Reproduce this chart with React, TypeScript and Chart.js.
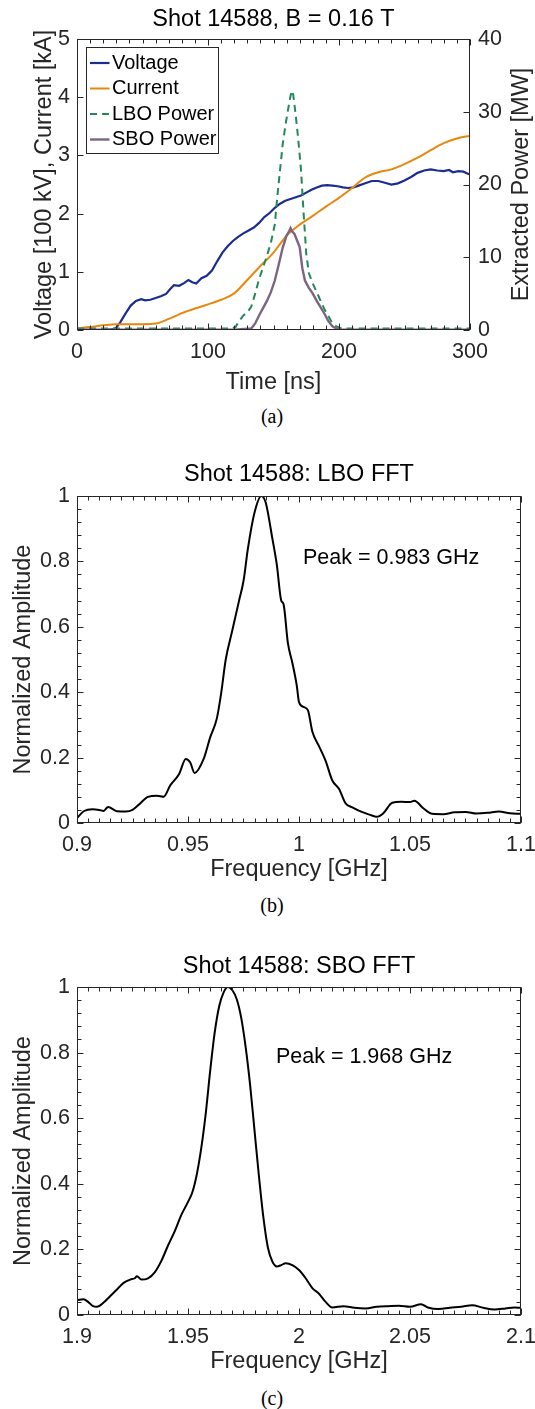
import React, { useEffect, useRef } from "react";
import { Chart, registerables } from "chart.js";

Chart.register(...registerables);

const SANS = '"Liberation Sans", Arial, Helvetica, sans-serif';
const SERIF = '"Liberation Serif", "Times New Roman", Times, serif';
const INK = "#262626";

// ---------------- Panel (a): time traces ----------------
const chartATitle = "Shot 14588, B = 0.16 T";
const legendLabels = ["Voltage", "Current", "LBO Power", "SBO Power"];
const leftAxisTitle = "Voltage [100 kV], Current [kA]";
const rightAxisTitle = "Extracted Power [MW]";

const voltageTime = [0, 10, 20, 27, 30, 33, 37, 41, 45, 49, 52, 56, 60, 64, 68, 71, 74, 78, 82, 85, 88, 91, 95, 99, 103, 107, 111, 115, 119, 123, 127, 131, 135, 139, 143, 147, 151, 155, 159, 163, 167, 171, 175, 179, 183, 187, 191, 195, 199, 203, 207, 211, 215, 220, 225, 230, 235, 240, 245, 250, 255, 260, 265, 270, 275, 280, 284, 287, 291, 295, 298, 300];
const voltageValue = [0.01, 0.0, 0.0, 0.01, 0.04, 0.13, 0.28, 0.42, 0.5, 0.53, 0.51, 0.52, 0.55, 0.58, 0.62, 0.7, 0.77, 0.76, 0.81, 0.86, 0.82, 0.8, 0.89, 0.93, 1.02, 1.18, 1.33, 1.44, 1.53, 1.6, 1.66, 1.71, 1.76, 1.84, 1.94, 2.01, 2.1, 2.17, 2.22, 2.25, 2.28, 2.31, 2.36, 2.41, 2.45, 2.48, 2.49, 2.48, 2.47, 2.45, 2.44, 2.45, 2.48, 2.52, 2.56, 2.56, 2.53, 2.5, 2.52, 2.57, 2.63, 2.7, 2.74, 2.76, 2.74, 2.73, 2.75, 2.71, 2.73, 2.72, 2.69, 2.67];

const currentTime = [0, 10, 20, 30, 40, 50, 60, 70, 80, 90, 100, 110, 120, 130, 140, 150, 160, 170, 180, 190, 200, 210, 220, 230, 240, 250, 260, 270, 280, 290, 300];
const currentValue = [0.03, 0.05, 0.08, 0.1, 0.1, 0.1, 0.11, 0.19, 0.29, 0.37, 0.44, 0.52, 0.63, 0.86, 1.1, 1.33, 1.62, 1.81, 1.96, 2.12, 2.27, 2.44, 2.62, 2.71, 2.76, 2.85, 2.96, 3.09, 3.21, 3.29, 3.34];

const lboTime = [0, 60, 118, 121, 124, 127, 130, 133, 136, 139, 142, 145, 148, 151, 153, 155, 157, 159, 161, 163, 164, 165, 167, 169, 171, 173, 175, 177, 180, 183, 186, 189, 192, 195, 198, 202, 240, 300];
const lboPower = [0.2, 0.2, 0.2, 0.4, 1.3, 2.0, 2.4, 3.2, 5.0, 7.0, 8.6, 10.2, 12.0, 14.5, 18.5, 22.0, 25.5, 28.0, 30.2, 32.2, 32.9, 32.4, 29.5, 26.0, 22.0, 16.0, 10.5, 7.8, 6.4, 5.2, 4.0, 2.8, 1.9, 0.9, 0.5, 0.2, 0.2, 0.2];

const sboTime = [0, 60, 120, 133, 136, 139, 142, 145, 148, 151, 154, 157, 160, 162, 163, 164, 166, 168, 170, 172, 174, 177, 180, 183, 186, 189, 192, 195, 198, 202, 250, 300];
const sboPower = [0.05, 0.05, 0.05, 0.2, 0.9, 2.0, 3.0, 4.0, 5.2, 6.8, 9.0, 11.3, 13.0, 13.6, 14.0, 13.6, 13.2, 12.3, 11.4, 8.5, 6.8, 5.8, 5.0, 4.0, 3.1, 2.2, 1.2, 0.5, 0.2, 0.05, 0.05, 0.05];

// ---------------- Panel (b): LBO FFT ----------------
const chartBTitle = "Shot 14588: LBO FFT";
const lboPeakLabel = "Peak = 0.983 GHz";
const lboFreq = [0.9, 0.903, 0.907, 0.91, 0.912, 0.914, 0.918, 0.922, 0.925, 0.928, 0.932, 0.936, 0.939, 0.942, 0.946, 0.949, 0.951, 0.953, 0.957, 0.96, 0.963, 0.965, 0.967, 0.97, 0.973, 0.975, 0.977, 0.98, 0.983, 0.985, 0.988, 0.99, 0.992, 0.993, 0.995, 0.997, 0.999, 1.0, 1.002, 1.004, 1.006, 1.009, 1.012, 1.015, 1.018, 1.021, 1.024, 1.028, 1.032, 1.035, 1.038, 1.042, 1.046, 1.05, 1.052, 1.056, 1.06, 1.065, 1.07, 1.075, 1.08, 1.085, 1.09, 1.095, 1.1];
const lboAmp = [0.015, 0.036, 0.042, 0.04, 0.037, 0.049, 0.036, 0.035, 0.04, 0.057, 0.08, 0.083, 0.08, 0.115, 0.15, 0.196, 0.185, 0.153, 0.195, 0.262, 0.32, 0.4, 0.5, 0.59, 0.68, 0.74, 0.84, 0.95, 1.0, 0.98, 0.87, 0.79, 0.68, 0.67, 0.55, 0.49, 0.42, 0.37, 0.355, 0.345, 0.28, 0.235, 0.19, 0.13, 0.105, 0.06, 0.048, 0.035, 0.025, 0.019, 0.03, 0.062, 0.065, 0.064, 0.068, 0.045, 0.028, 0.027, 0.033, 0.034, 0.029, 0.031, 0.035, 0.03, 0.028];
const lboPeakAt = [1.0018, 0.81];

// ---------------- Panel (c): SBO FFT ----------------
const chartCTitle = "Shot 14588: SBO FFT";
const sboPeakLabel = "Peak = 1.968 GHz";
const sboFreq = [1.9, 1.903, 1.905, 1.907, 1.909, 1.912, 1.915, 1.918, 1.921, 1.924, 1.926, 1.927, 1.929, 1.932, 1.935, 1.938, 1.941, 1.944, 1.947, 1.95, 1.952, 1.954, 1.956, 1.958, 1.96, 1.962, 1.964, 1.966, 1.968, 1.97, 1.972, 1.974, 1.976, 1.978, 1.98, 1.982, 1.984, 1.986, 1.988, 1.99, 1.992, 1.994, 1.997, 2.0, 2.003, 2.006, 2.009, 2.012, 2.015, 2.02, 2.025, 2.03, 2.035, 2.04, 2.045, 2.05, 2.055, 2.058, 2.063, 2.068, 2.073, 2.078, 2.083, 2.088, 2.093, 2.097, 2.1];
const sboAmp = [0.046, 0.048, 0.04, 0.028, 0.025, 0.038, 0.058, 0.078, 0.098, 0.108, 0.112, 0.118, 0.108, 0.112, 0.13, 0.165, 0.212, 0.255, 0.305, 0.345, 0.375, 0.43, 0.51, 0.615, 0.745, 0.86, 0.94, 0.983, 1.0, 0.99, 0.962, 0.905, 0.815, 0.7, 0.56, 0.42, 0.295, 0.205, 0.163, 0.148, 0.152, 0.158, 0.152, 0.137, 0.112, 0.082, 0.065, 0.04, 0.023, 0.027, 0.022, 0.02, 0.025, 0.027, 0.028, 0.025, 0.033, 0.023, 0.018, 0.022, 0.025, 0.03, 0.022, 0.017, 0.02, 0.023, 0.022];
const sboPeakAt = [1.9896, 0.7875];

// ---------------- helpers ----------------
const pts = (xs: number[], ys: number[]) => xs.map((x, i) => ({ x, y: ys[i] }));
const tickFont = { family: SANS, size: 21.5 };
const labelFont = { family: SANS, size: 23.5, lineHeight: "28px" };
const noGrid = { display: false, drawTicks: false, drawOnChartArea: false, tickLength: 0 };
const fmt = (v: any) => String(Math.round(Number(v) * 1000) / 1000);

type Edge = "left" | "right" | "top" | "bottom";
interface TickSpec { scaleId: string; edges: Edge[]; step: number; minor?: number }
interface DecorCfg {
  ticks: TickSpec[];
  legend?: { x: number; y: number; w: number; h: number; row0: number; rowGap: number; lineX0: number; lineX1: number; textX: number; size: number };
  note?: { text: string; at: number[]; size: number };
  sideTitles?: { text: string; x: number; size: number }[];
}

function makeDecor(cfg: DecorCfg) {
  return {
    id: "matlabDecor",
    afterDatasetsDraw(chart: any) {
      const { ctx, chartArea: a, scales } = chart;
      const L = Math.round(a.left) + 0.5;
      const R = Math.round(a.right) - 0.5;
      const T = Math.round(a.top) + 0.5;
      const B = Math.round(a.bottom) - 0.5;
      ctx.save();
      ctx.setLineDash([]);
      ctx.strokeStyle = INK;
      ctx.lineWidth = 1;
      ctx.beginPath();
      for (const t of cfg.ticks) {
        const s = scales[t.scaleId];
        const mark = (v: number, len: number) => {
          const p = Math.round(s.getPixelForValue(v)) + 0.5;
          for (const e of t.edges) {
            if (e === "bottom") { ctx.moveTo(p, B); ctx.lineTo(p, B - len); }
            else if (e === "top") { ctx.moveTo(p, T); ctx.lineTo(p, T + len); }
            else if (e === "left") { ctx.moveTo(L, p); ctx.lineTo(L + len, p); }
            else { ctx.moveTo(R, p); ctx.lineTo(R - len, p); }
          }
        };
        const span = s.max - s.min;
        const nMaj = Math.round(span / t.step);
        for (let i = 0; i <= nMaj; i++) mark(s.min + i * t.step, 6);
        if (t.minor) {
          const n = Math.round(span / t.minor);
          for (let i = 0; i <= n; i++) mark(s.min + i * t.minor, 4);
        }
      }
      ctx.stroke();
      ctx.strokeRect(L, T, R - L, B - T);

      if (cfg.legend) {
        const lg = cfg.legend;
        const x0 = Math.round(a.left + lg.x) + 0.5;
        const y0 = Math.round(a.top + lg.y) + 0.5;
        ctx.fillStyle = "#ffffff";
        ctx.fillRect(x0, y0, lg.w, lg.h);
        ctx.strokeStyle = INK;
        ctx.lineWidth = 1;
        ctx.strokeRect(x0, y0, lg.w, lg.h);
        ctx.font = `${lg.size}px ${SANS}`;
        ctx.textAlign = "left";
        ctx.textBaseline = "middle";
        chart.data.datasets.forEach((ds: any, i: number) => {
          const y = y0 + lg.row0 + i * lg.rowGap;
          ctx.strokeStyle = ds.borderColor;
          ctx.lineWidth = ds.borderWidth;
          ctx.setLineDash(ds.borderDash || []);
          ctx.beginPath();
          ctx.moveTo(x0 + lg.lineX0, y);
          ctx.lineTo(x0 + lg.lineX1, y);
          ctx.stroke();
          ctx.setLineDash([]);
          ctx.fillStyle = "#000";
          ctx.fillText(ds.label, x0 + lg.textX, y);
        });
      }

      if (cfg.note) {
        const px = scales.x.getPixelForValue(cfg.note.at[0]);
        const py = scales.y.getPixelForValue(cfg.note.at[1]);
        ctx.font = `${cfg.note.size}px ${SANS}`;
        ctx.fillStyle = "#000";
        ctx.textAlign = "left";
        ctx.textBaseline = "middle";
        ctx.fillText(cfg.note.text, px, py);
      }

      for (const st of cfg.sideTitles || []) {
        ctx.save();
        ctx.translate(st.x, (a.top + a.bottom) / 2);
        ctx.rotate(-Math.PI / 2);
        ctx.font = `${st.size}px ${SANS}`;
        ctx.fillStyle = INK;
        ctx.textAlign = "center";
        ctx.textBaseline = "middle";
        ctx.fillText(st.text, 0, 0);
        ctx.restore();
      }
      ctx.restore();
    },
  };
}

function titleOpts(text: string, top: number, bottom: number) {
  return {
    display: true,
    text,
    color: "#000",
    font: { family: SANS, size: 23.5, weight: "normal", lineHeight: "28px" },
    padding: { top, bottom },
    fullSize: false,
  };
}

function configA(): any {
  return {
    type: "line",
    data: {
      datasets: [
        { label: legendLabels[0], data: pts(voltageTime, voltageValue), borderColor: "#1b2d8f", borderWidth: 2.2, yAxisID: "y", order: 4, pointRadius: 0, tension: 0 },
        { label: legendLabels[1], data: pts(currentTime, currentValue), borderColor: "#e8870e", borderWidth: 2, yAxisID: "y", order: 3, pointRadius: 0, cubicInterpolationMode: "monotone" },
        { label: legendLabels[2], data: pts(lboTime, lboPower), borderColor: "#23875a", borderWidth: 2, borderDash: [7, 5], yAxisID: "y1", order: 2, pointRadius: 0, tension: 0 },
        { label: legendLabels[3], data: pts(sboTime, sboPower), borderColor: "#7c6582", borderWidth: 2.4, yAxisID: "y1", order: 1, pointRadius: 0, tension: 0 },
      ],
    },
    options: {
      responsive: false,
      animation: false,
      events: [],
      layout: { padding: 0 },
      plugins: {
        legend: { display: false },
        tooltip: { enabled: false },
        title: titleOpts(chartATitle, 6, 5),
      },
      scales: {
        x: {
          type: "linear", min: 0, max: 300,
          ticks: { stepSize: 100, color: INK, font: tickFont, padding: 9, maxRotation: 0, callback: fmt },
          grid: noGrid, border: { display: false },
          title: { display: true, text: "Time [ns]", color: INK, font: labelFont, padding: { top: 4, bottom: 4 } },
          afterFit: (s: any) => { s.height = 71; s.paddingLeft = 0; s.paddingRight = 0; },
        },
        y: {
          type: "linear", position: "left", min: 0, max: 5,
          ticks: { stepSize: 1, color: INK, font: tickFont, padding: 7, callback: fmt },
          grid: noGrid, border: { display: false },
          afterFit: (s: any) => { s.width = 77; s.paddingTop = 0; s.paddingBottom = 0; },
        },
        y1: {
          type: "linear", position: "right", min: 0, max: 40,
          ticks: { stepSize: 10, color: INK, font: tickFont, padding: 8, callback: fmt },
          grid: noGrid, border: { display: false },
          afterFit: (s: any) => { s.width = 65; s.paddingTop = 0; s.paddingBottom = 0; },
        },
      },
    },
    plugins: [
      makeDecor({
        ticks: [
          { scaleId: "x", edges: ["bottom", "top"], step: 100, minor: 10 },
          { scaleId: "y", edges: ["left"], step: 1 },
          { scaleId: "y1", edges: ["right"], step: 10 },
        ],
        legend: { x: 9, y: 8, w: 132, h: 106, row0: 15.5, rowGap: 25.5, lineX0: 3.5, lineX1: 23, textX: 25.5, size: 20 },
        sideTitles: [
          { text: leftAxisTitle, x: 44.4, size: 23.5 },
          { text: rightAxisTitle, x: 521.5, size: 23.5 },
        ],
      }),
    ],
  };
}

function fftConfig(title: string, tTop: number, tBottom: number, freq: number[], amp: number[], xmin: number, xmax: number, noteText: string, noteAt: number[], height: number): any {
  return {
    type: "line",
    data: {
      datasets: [
        { label: title, data: pts(freq, amp), borderColor: "#000", borderWidth: 2, pointRadius: 0, cubicInterpolationMode: "monotone" },
      ],
    },
    options: {
      responsive: false,
      animation: false,
      events: [],
      layout: { padding: { left: 0, right: 14, top: 0, bottom: 0 } },
      plugins: {
        legend: { display: false },
        tooltip: { enabled: false },
        title: titleOpts(title, tTop, tBottom),
      },
      scales: {
        x: {
          type: "linear", min: xmin, max: xmax,
          ticks: { stepSize: 0.05, color: INK, font: tickFont, padding: 9, maxRotation: 0, autoSkip: false, callback: fmt },
          grid: noGrid, border: { display: false },
          title: { display: true, text: "Frequency [GHz]", color: INK, font: labelFont, padding: { top: 4, bottom: 4 } },
          afterFit: (s: any) => { s.height = height; s.paddingLeft = 0; s.paddingRight = 0; },
        },
        y: {
          type: "linear", position: "left", min: 0, max: 1,
          ticks: { stepSize: 0.2, color: INK, font: tickFont, padding: 7, callback: fmt },
          grid: noGrid, border: { display: false },
          title: { display: true, text: "Normalized Amplitude", color: INK, font: labelFont, padding: { top: 10, bottom: 0 } },
          afterFit: (s: any) => { s.width = 77; s.paddingTop = 0; s.paddingBottom = 0; },
        },
      },
    },
    plugins: [
      makeDecor({
        ticks: [
          { scaleId: "x", edges: ["bottom", "top"], step: 0.05, minor: 0.005 },
          { scaleId: "y", edges: ["left", "right"], step: 0.2, minor: 0.04 },
        ],
        note: { text: noteText, at: noteAt, size: 21.5 },
      }),
    ],
  };
}

const configB = () => fftConfig(chartBTitle, 21, 7, lboFreq, lboAmp, 0.9, 1.1, lboPeakLabel, lboPeakAt, 65);
const configC = () => fftConfig(chartCTitle, 33, 6, sboFreq, sboAmp, 1.9, 2.1, sboPeakLabel, sboPeakAt, 65);

function ChartCanvas({ make, top, width, height }: { make: () => any; top: number; width: number; height: number }) {
  const ref = useRef<HTMLCanvasElement>(null);
  useEffect(() => {
    const chart = new Chart(ref.current as HTMLCanvasElement, make());
    return () => chart.destroy();
  }, []);
  return (
    <canvas
      ref={ref}
      width={width}
      height={height}
      style={{ position: "absolute", left: 0, top, width, height, display: "block" }}
    />
  );
}

const capStyle = (top: number): React.CSSProperties => ({
  position: "absolute",
  left: 0,
  top,
  width: 544,
  textAlign: "center",
  fontFamily: SERIF,
  fontSize: 20,
  lineHeight: "24px",
  color: "#000",
});

export default function App() {
  return (
    <div style={{ position: "absolute", left: 0, top: 0, width: 535, height: 1409, overflow: "hidden", background: "#fff" }}>
      <ChartCanvas make={configA} top={0} width={535} height={401} />
      <div style={capStyle(404)}>(a)</div>
      <ChartCanvas make={configB} top={440} width={535} height={448} />
      <div style={capStyle(893)}>(b)</div>
      <ChartCanvas make={configC} top={920} width={535} height={460} />
      <div style={capStyle(1386)}>(c)</div>
    </div>
  );
}
